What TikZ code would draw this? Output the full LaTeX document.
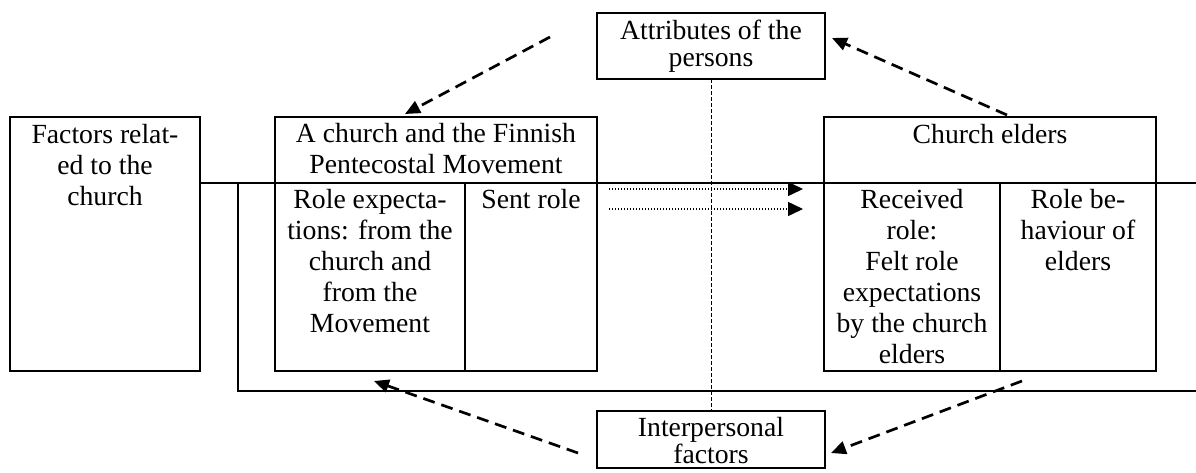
\documentclass[tikz,border=0pt]{standalone}
\usepackage{fontspec}
\setmainfont{Liberation Serif}
\usetikzlibrary{arrows.meta}
\begin{document}
\begin{tikzpicture}[x=0.5pt,y=-0.5pt,
  frame/.style={draw,line width=1pt,inner sep=0pt,outer sep=0pt,anchor=north west},
  txt/.style={anchor=north,inner sep=0pt,align=center,font=\fontsize{13.85pt}{15.5pt}\selectfont},
  tighttxt/.style={txt,font=\fontsize{13.85pt}{13.4pt}\selectfont},
  rule/.style={line width=1pt},
  influence/.style={line width=1.35pt,dash pattern=on 6pt off 3.5pt,-{Triangle[length=7.5pt,width=6.5pt]}},
  transfer/.style={line width=0.75pt,dash pattern=on 0.5pt off 1pt,-{Triangle[length=7.5pt,width=7pt]}},
  link/.style={line width=0.5pt,dash pattern=on 2pt off 1pt}]
\useasboundingbox (0,0) rectangle (1196,472);

% boxes
\node[frame,minimum width=95pt,minimum height=127pt] (factors) at (10,117) {};
\node[frame,minimum width=161pt,minimum height=127pt] (church) at (275,117) {};
\node[frame,minimum width=166pt,minimum height=127pt] (elders) at (824,117) {};
\node[frame,minimum width=114pt,minimum height=33pt] (attr) at (597,13) {};
\node[frame,minimum width=114pt,minimum height=28.5pt] (inter) at (597,411) {};

% long horizontal rules and the inner frame
\coordinate (ruleL) at (200,183);
\coordinate (ruleR) at (1196,183);
\draw[rule] (ruleL) -- (ruleR);
\coordinate (innerT) at (238,183);
\coordinate (innerB) at (238,391);
\coordinate (innerR) at (1196,391);
\draw[rule] (innerT) -- (innerB) -- (innerR);

% cell dividers
\coordinate (cdivT) at (465,183);
\coordinate (edivT) at (1000,183);
\draw[rule] (cdivT) -- (cdivT |- church.south);
\draw[rule] (edivT) -- (edivT |- elders.south);

% texts
\node[txt] (tfactors) at (105,124) {Factors relat-\\ed to the\\church};
\node[txt] (tchurch) at (436,123) {A church and the Finnish\\Pentecostal Movement};
\node[txt] (texpect) at (370,189) {Role expecta-\\tions: from the\\church and\\from the\\Movement};
\node[txt] (tsent) at (531,189) {Sent role};
\node[txt] (telders) at (990,124) {Church elders};
\node[txt] (trecv) at (912,189) {Received\\role:\\Felt role\\expectations\\by the church\\elders};
\node[txt] (tbehav) at (1078,189) {Role be-\\haviour of\\elders};
\node[tighttxt] (tattr) at (711,20) {Attributes of the\\persons};
\node[tighttxt] (tinter) at (711,417) {Interpersonal\\factors};

% dashed link between the two factor boxes
\draw[link] (attr.south) -- (inter.north);

% role transfer arrows
\coordinate (s1) at (609,189);
\coordinate (e1) at (803,189);
\coordinate (s2) at (609,209);
\coordinate (e2) at (803,209);
\draw[transfer] (s1) -- (e1);
\draw[transfer] (s2) -- (e2);

% influence arrows
\coordinate (a1) at (550,37);
\coordinate (b1) at (405,114);
\coordinate (a2) at (1007,115);
\coordinate (b2) at (832,38);
\coordinate (a3) at (578,453);
\coordinate (b3) at (374,381);
\coordinate (a4) at (1022,381);
\coordinate (b4) at (831,453);
\draw[influence] (a1) -- (b1);
\draw[influence] (a2) -- (b2);
\draw[influence] (a3) -- (b3);
\draw[influence] (a4) -- (b4);
\end{tikzpicture}
\end{document}
